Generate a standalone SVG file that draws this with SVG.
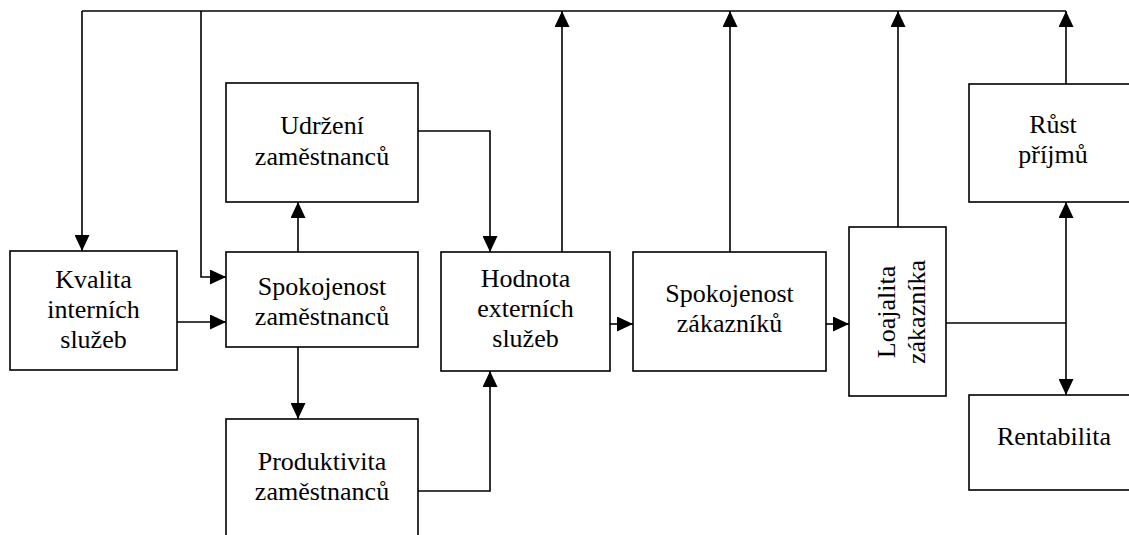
<svg xmlns="http://www.w3.org/2000/svg" width="1129" height="535" viewBox="0 0 1129 535">
  <style>
    .box { fill: #ffffff; stroke: #000000; stroke-width: 1.6; }
    text { font-family: 'Liberation Serif', 'Times New Roman', Tinos, 'DejaVu Serif', serif; font-size: 26px; fill: #000000; text-anchor: middle; }
    .wire { fill: none; stroke: #000000; stroke-width: 1.6; }
    .arr { marker-end: url(#head); }
  </style>
  <defs>
    <marker id="head" markerUnits="userSpaceOnUse" markerWidth="16" markerHeight="15" refX="16" refY="7.5" orient="auto">
      <path d="M0,0 L16,7.5 L0,15 Z" fill="#000000"/>
    </marker>
  </defs>

  <rect width="1129" height="535" fill="#ffffff"/>

  <!-- connectors -->
  <g id="connectors">
    <!-- feedback bus along the top -->
    <path class="wire" d="M82,11 H1066"/>
    <path class="wire arr" d="M82,11 V251"/>
    <path class="wire arr" d="M201,11 V277 H226"/>
    <!-- internal chain -->
    <path class="wire arr" d="M177,322 H226"/>
    <path class="wire arr" d="M298,252 V202"/>
    <path class="wire arr" d="M298,347 V419"/>
    <path class="wire arr" d="M418,131 H490 V252"/>
    <path class="wire arr" d="M418,491 H490 V371"/>
    <!-- external chain -->
    <path class="wire arr" d="M610,324 H633"/>
    <path class="wire arr" d="M826,324 H849"/>
    <!-- risers to the bus -->
    <path class="wire arr" d="M562,252 V11"/>
    <path class="wire arr" d="M730,252 V11"/>
    <path class="wire arr" d="M898,227 V11"/>
    <path class="wire arr" d="M1066,84 V11"/>
    <!-- loyalty split to revenue and profitability -->
    <path class="wire" d="M946,323 H1066"/>
    <path class="wire arr" d="M1066,323 V202"/>
    <path class="wire arr" d="M1066,323 V395"/>
  </g>

  <g id="kvalita" font-family="Liberation Serif, serif">
    <rect class="box" x="10" y="251" width="167" height="119"/>
    <text x="93.5" y="288">Kvalita</text>
    <text x="93.5" y="318">interních</text>
    <text x="93.5" y="348">služeb</text>
  </g>

  <g id="udrzeni" font-family="Liberation Serif, serif">
    <rect class="box" x="226" y="83" width="192" height="119"/>
    <text x="322" y="134">Udržení</text>
    <text x="322" y="165">zaměstnanců</text>
  </g>

  <g id="spokojenost-zamestnancu" font-family="Liberation Serif, serif">
    <rect class="box" x="226" y="252" width="192" height="95"/>
    <text x="322" y="295">Spokojenost</text>
    <text x="322" y="325">zaměstnanců</text>
  </g>

  <g id="produktivita" font-family="Liberation Serif, serif">
    <rect class="box" x="226" y="419" width="192" height="140"/>
    <text x="322" y="470">Produktivita</text>
    <text x="322" y="500">zaměstnanců</text>
  </g>

  <g id="hodnota" font-family="Liberation Serif, serif">
    <rect class="box" x="441" y="252" width="169" height="119"/>
    <text x="525.5" y="287">Hodnota</text>
    <text x="525.5" y="317">externích</text>
    <text x="525.5" y="347">služeb</text>
  </g>

  <g id="spokojenost-zakazniku" font-family="Liberation Serif, serif">
    <rect class="box" x="633" y="252" width="193" height="119"/>
    <text x="729.5" y="302">Spokojenost</text>
    <text x="729.5" y="332">zákazníků</text>
  </g>

  <g id="loajalita" font-family="Liberation Serif, serif">
    <rect class="box" x="849" y="227" width="97" height="169"/>
    <text transform="translate(895,312) rotate(-90)">Loajalita</text>
    <text transform="translate(925,312) rotate(-90)">zákazníka</text>
  </g>

  <g id="rust-prijmu" font-family="Liberation Serif, serif">
    <rect class="box" x="969" y="84" width="170" height="118"/>
    <text x="1053" y="133">Růst</text>
    <text x="1053" y="163">příjmů</text>
  </g>

  <g id="rentabilita" font-family="Liberation Serif, serif">
    <rect class="box" x="969" y="395" width="170" height="95"/>
    <text x="1054" y="445">Rentabilita</text>
  </g>
</svg>
